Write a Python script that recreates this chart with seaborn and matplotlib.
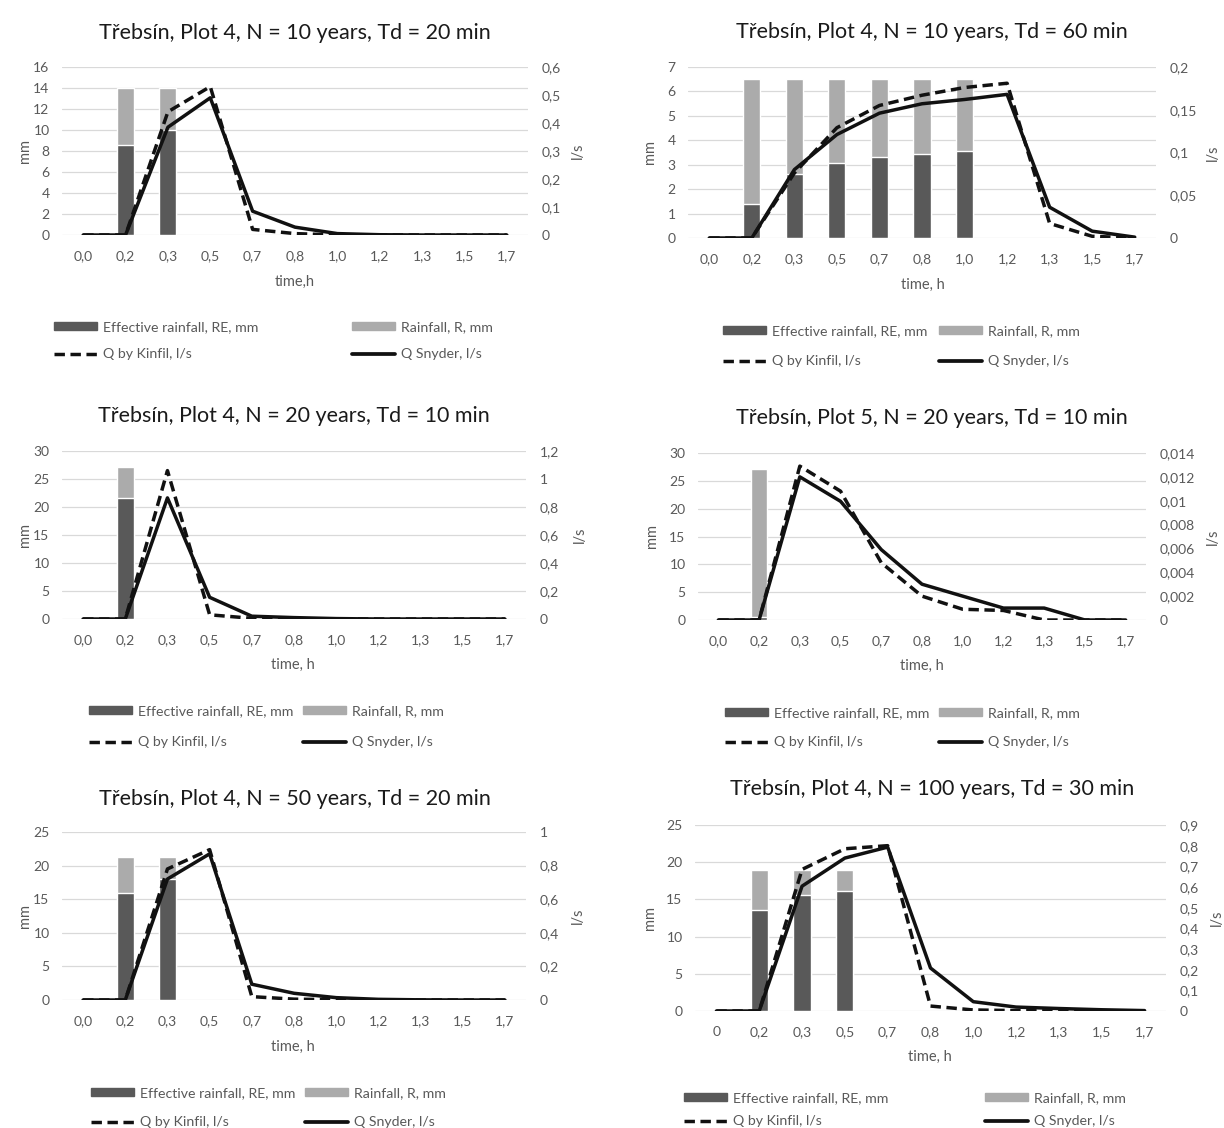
import numpy as np
import matplotlib
matplotlib.use("Agg")
import matplotlib.pyplot as plt
import seaborn as sns
from matplotlib.patches import Patch
from matplotlib.lines import Line2D
from matplotlib.ticker import MultipleLocator, FuncFormatter

sns.set_style("white")
plt.rcParams["font.family"] = ["Lato", "DejaVu Sans"]

W, H = 1224, 1128
GREY = "#595959"
DARK = "#595959"
LIGHT = "#ababab"

times = ["0,0", "0,2", "0,3", "0,5", "0,7", "0,8", "1,0", "1,2", "1,3", "1,5", "1,7"]
times_6 = ["0", "0,2", "0,3", "0,5", "0,7", "0,8", "1,0", "1,2", "1,3", "1,5", "1,7"]

titles = [
    "Třebsín, Plot 4, N = 10 years, Td = 20 min",
    "Třebsín, Plot 4, N = 10 years, Td = 60 min",
    "Třebsín, Plot 4, N = 20 years, Td = 10 min",
    "Třebsín, Plot 5, N = 20 years, Td = 10 min",
    "Třebsín, Plot 4, N = 50 years, Td = 20 min",
    "Třebsín, Plot 4, N = 100 years, Td = 30 min",
]
xlabels = ["time,h", "time, h", "time, h", "time, h", "time, h", "time, h"]
legend_labels = ["Effective rainfall, RE, mm", "Rainfall, R, mm", "Q by Kinfil, l/s", "Q Snyder, l/s"]

# rainfall (mm), effective rainfall (mm), discharge Kinfil / Snyder (l/s)
rain_1 = [0, 14.0, 14.0, 0, 0, 0, 0, 0, 0, 0, 0]
eff_1 = [0, 8.6, 10.0, 0, 0, 0, 0, 0, 0, 0, 0]
kinfil_1 = [0, 0, 0.44, 0.53, 0.02, 0.005, 0, 0, 0, 0, 0]
snyder_1 = [0, 0, 0.385, 0.49, 0.085, 0.028, 0.005, 0.001, 0, 0, 0]

rain_2 = [0, 6.5, 6.5, 6.5, 6.5, 6.5, 6.5, 0, 0, 0, 0]
eff_2 = [0, 1.4, 2.6, 3.07, 3.3, 3.45, 3.57, 0, 0, 0, 0]
kinfil_2 = [0, 0, 0.076, 0.129, 0.155, 0.167, 0.176, 0.181, 0.017, 0.002, 0]
snyder_2 = [0, 0, 0.080, 0.121, 0.146, 0.157, 0.162, 0.168, 0.036, 0.008, 0.001]

rain_3 = [0, 27.2, 0, 0, 0, 0, 0, 0, 0, 0, 0]
eff_3 = [0, 21.6, 0, 0, 0, 0, 0, 0, 0, 0, 0]
kinfil_3 = [0, 0, 1.06, 0.03, 0.005, 0, 0, 0, 0, 0, 0]
snyder_3 = [0, 0, 0.865, 0.155, 0.02, 0.01, 0.003, 0, 0, 0, 0]

rain_4 = [0, 27.1, 0, 0, 0, 0, 0, 0, 0, 0, 0]
eff_4 = [0, 0.5, 0, 0, 0, 0, 0, 0, 0, 0, 0]
kinfil_4 = [0, 0, 0.0129, 0.0108, 0.0048, 0.002, 0.0009, 0.0008, 0, 0, 0]
snyder_4 = [0, 0, 0.012, 0.00995, 0.0059, 0.003, 0.002, 0.001, 0.001, 0, 0]

rain_5 = [0, 21.3, 21.3, 0, 0, 0, 0, 0, 0, 0, 0]
eff_5 = [0, 15.9, 18.0, 0, 0, 0, 0, 0, 0, 0, 0]
kinfil_5 = [0, 0, 0.78, 0.895, 0.02, 0.005, 0.002, 0, 0, 0, 0]
snyder_5 = [0, 0, 0.72, 0.87, 0.094, 0.04, 0.014, 0.004, 0.001, 0, 0]

rain_6 = [0, 19.0, 19.0, 19.0, 0, 0, 0, 0, 0, 0, 0]
eff_6 = [0, 13.6, 15.6, 16.1, 0, 0, 0, 0, 0, 0, 0]
kinfil_6 = [0, 0, 0.685, 0.785, 0.80, 0.024, 0.005, 0.002, 0, 0, 0]
snyder_6 = [0, 0, 0.604, 0.74, 0.793, 0.208, 0.045, 0.019, 0.012, 0.006, 0.002]

data = [
    (times, rain_1, eff_1, kinfil_1, snyder_1),
    (times, rain_2, eff_2, kinfil_2, snyder_2),
    (times, rain_3, eff_3, kinfil_3, snyder_3),
    (times, rain_4, eff_4, kinfil_4, snyder_4),
    (times, rain_5, eff_5, kinfil_5, snyder_5),
    (times_6, rain_6, eff_6, kinfil_6, snyder_6),
]

# layout in pixels: axes box, axis ranges, text positions, legend positions
layout = [
    dict(box=(62, 528, 67, 235), mm=(16, 2), ls=(0.6, 0.1), title=(295, 33), xl=(295, 282),
         mmx=25, lsx=578, leg=(54, 352, 329, 1.08)),
    dict(box=(688, 1156, 67, 238), mm=(7, 1), ls=(0.2, 0.05), title=(932, 32), xl=(923, 285),
         mmx=650, lsx=1213, leg=(723, 939, 333, 1.28)),
    dict(box=(62, 526, 451, 619), mm=(30, 5), ls=(1.2, 0.2), title=(294, 416), xl=(293, 665),
         mmx=25, lsx=580, leg=(89, 303, 713, 1.36)),
    dict(box=(698, 1146, 453, 620), mm=(30, 5), ls=(0.014, 0.002), title=(932, 418), xl=(922, 666),
         mmx=652, lsx=1213, leg=(725, 939, 715, 1.22)),
    dict(box=(62, 526, 832, 1000), mm=(25, 5), ls=(1.0, 0.2), title=(295, 799), xl=(293, 1047),
         mmx=25, lsx=578, leg=(91, 305, 1095, 1.22)),
    dict(box=(695, 1166, 825, 1011), mm=(25, 5), ls=(0.9, 0.1), title=(932, 789), xl=(930, 1057),
         mmx=650, lsx=1217, leg=(684, 985, 1100, 0.8)),
]


def comma_fmt(v, pos):
    return f"{v:g}".replace(".", ",")


fig = plt.figure(figsize=(W / 100, H / 100), dpi=100)

dash = (0, (3, 1.6))
for i, ((cats, rain, eff, kin, sny), lay) in enumerate(zip(data, layout)):
    l, r, t, b = lay["box"]
    ax = fig.add_axes([l / W, 1 - b / H, (r - l) / W, (b - t) / H])
    sns.barplot(x=cats, y=rain, color=LIGHT, width=0.4, ax=ax, saturation=1)
    sns.barplot(x=cats, y=eff, color=DARK, width=0.4, ax=ax, saturation=1)
    ax.set_xlim(-0.5, len(cats) - 0.5)
    ax.set_ylim(0, lay["mm"][0])
    ax.yaxis.set_major_locator(MultipleLocator(lay["mm"][1]))
    ax.grid(axis="y", color="#d9d9d9", lw=0.9)
    ax.set_axisbelow(True)
    for s in ax.spines.values():
        s.set_visible(False)
    ax.tick_params(axis="both", length=0, labelsize=10, colors=GREY)
    ax.tick_params(axis="x", pad=11)
    ax.tick_params(axis="y", pad=9)
    ax.set_xlabel("")
    ax.set_ylabel("")

    ax2 = ax.twinx()
    pos = np.arange(len(cats))
    sns.lineplot(x=pos, y=kin, ax=ax2, color="#111111", lw=2.5, linestyle=dash)
    sns.lineplot(x=pos, y=sny, ax=ax2, color="#111111", lw=2.5)
    ax2.set_xlim(-0.5, len(cats) - 0.5)
    ax2.set_ylim(0, lay["ls"][0] * 1.0000001)
    ax2.yaxis.set_major_locator(MultipleLocator(lay["ls"][1]))
    ax2.yaxis.set_major_formatter(FuncFormatter(comma_fmt))
    ax2.grid(False)
    for s in ax2.spines.values():
        s.set_visible(False)
    ax2.tick_params(axis="y", length=0, labelsize=10, colors=GREY, pad=10)
    ax2.set_ylabel("")

    cy = (t + b) / 2
    fig.text(lay["title"][0] / W, 1 - lay["title"][1] / H, titles[i], ha="center", va="center",
             fontsize=15.5, color="#1a1a1a")
    fig.text(lay["xl"][0] / W, 1 - lay["xl"][1] / H, xlabels[i], ha="center", va="center",
             fontsize=10.5, color=GREY)
    fig.text(lay["mmx"] / W, 1 - cy / H, "mm", ha="center", va="center", rotation=90,
             fontsize=10.5, color=GREY)
    fig.text(lay["lsx"] / W, 1 - cy / H, "l/s", ha="center", va="center", rotation=90,
             fontsize=10.5, color=GREY)

    h_eff = Patch(color=DARK)
    h_rain = Patch(color=LIGHT)
    h_kin = Line2D([], [], color="#111111", lw=2.5, linestyle=dash)
    h_sny = Line2D([], [], color="#111111", lw=2.7)
    x1, x2, y1, sp = lay["leg"]
    for hx, hs, labs in [(x1, [h_eff, h_kin], [legend_labels[0], legend_labels[2]]),
                         (x2, [h_rain, h_sny], [legend_labels[1], legend_labels[3]])]:
        fig.legend(hs, labs, loc="upper left", bbox_to_anchor=(hx / W, 1 - (y1 - 8) / H),
                   frameon=False, borderpad=0, borderaxespad=0, handlelength=3.0,
                   handleheight=0.5, handletextpad=0.45, labelspacing=sp, fontsize=10.2,
                   labelcolor=GREY)

fig.savefig("out.png", dpi=100, facecolor="white")
